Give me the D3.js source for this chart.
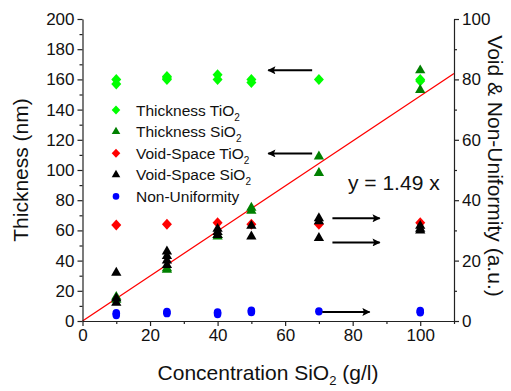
<!DOCTYPE html>
<html><head><meta charset="utf-8">
<script src="https://cdn.jsdelivr.net/npm/d3@7"></script>
<style>body{margin:0;background:#fff}svg{font-family:"Liberation Sans",Arial,sans-serif}</style>
</head><body>
<svg id="c" width="511" height="391"></svg>
<script>
// x positions (g/l)
const thickTiO2X = [10,10,25,25,25,40,40,50,50,70,100,100];
const thickTiO2Y = [160,157,160,161,162,163,160,160,158,160,160,159];
const thickSiO2X = [10,10,25,25,40,40,50,50,70,70,100,100];
const thickSiO2Y = [16,14,35,34,56,57,75,73,109,98,166,153];
const voidTiO2X = [10,25,40,50,70,100];
const voidTiO2Y = [31.8,32,32.5,32,32,32.5];
const voidSiO2X = [10,10,10,25,25,25,25,40,40,40,50,50,70,70,70,100,100,100];
const voidSiO2Y = [16,7.5,6,23,21.5,20,18.5,30.5,29.5,28.5,31.5,28,34,33,27.5,31.5,30.5,30];
const nonUnifX = [10,10,25,25,40,40,50,50,70,100,100];
const nonUnifY = [2,2.6,2.6,3,2.3,2.8,3,3.4,3.2,2.9,3.3];
const slope = 1.49;
const xTicks = [0,20,40,60,80,100];
const leftTicks = [0,20,40,60,80,100,120,140,160,180,200];
const rightTicks = [0,20,40,60,80,100];
const legendLabels = [["Thickness TiO","2"],["Thickness SiO","2"],["Void-Space TiO","2"],["Void-Space SiO","2"],["Non-Uniformity",""]];
// arrows: [x-from, x-to, y] in data units
const arrowsLeft = [[68,55,166],[68,55,111]];
const arrowsRight = [[74,88,34],[74,88,26],[71,85,3]];

const svg = d3.select("#c");
const L=82.5, R=454, T=19, B=321;
const x = d3.scaleLinear().domain([0,110]).range([L,R]);
const yL = d3.scaleLinear().domain([0,200]).range([B,T]);
const yR = d3.scaleLinear().domain([0,100]).range([B,T]);
const axCol="#222";

// fit line
svg.append("line").attr("x1",x(0)).attr("y1",yL(0)).attr("x2",x(110)).attr("y2",yL(slope*110))
  .attr("stroke","#ff0000").attr("stroke-width",1.3);

function styleAxis(g){g.select(".domain").attr("stroke",axCol).attr("stroke-width",1.2);
  g.selectAll(".tick line").attr("stroke",axCol).attr("stroke-width",1.2);
  g.selectAll("text").attr("font-size",17).attr("fill","#111").attr("font-family","Liberation Sans, Arial, sans-serif");}
const gx = svg.append("g").attr("transform",`translate(0,${B})`)
  .call(d3.axisBottom(x).tickValues(xTicks).tickSize(5).tickSizeOuter(0).tickPadding(3));
styleAxis(gx);
svg.append("g").attr("transform",`translate(0,${B})`)
  .call(d3.axisBottom(x).tickValues(d3.range(10,111,20)).tickSize(3).tickFormat("").tickSizeOuter(0))
  .call(g=>{g.select(".domain").remove();g.selectAll("line").attr("stroke",axCol).attr("stroke-width",1.2);});
const gl = svg.append("g").attr("transform",`translate(${L},0)`)
  .call(d3.axisLeft(yL).tickValues(leftTicks).tickSize(5).tickSizeOuter(0).tickPadding(3));
styleAxis(gl);
svg.append("g").attr("transform",`translate(${L},0)`)
  .call(d3.axisLeft(yL).tickValues(d3.range(10,200,20)).tickSize(3).tickFormat("").tickSizeOuter(0))
  .call(g=>{g.select(".domain").remove();g.selectAll("line").attr("stroke",axCol).attr("stroke-width",1.2);});
const gr = svg.append("g").attr("transform",`translate(${R},0)`)
  .call(d3.axisRight(yR).tickValues(rightTicks).tickSize(5).tickSizeOuter(0).tickPadding(3));
styleAxis(gr);
svg.append("g").attr("transform",`translate(${R},0)`)
  .call(d3.axisRight(yR).tickValues(d3.range(10,100,20)).tickSize(3).tickFormat("").tickSizeOuter(0))
  .call(g=>{g.select(".domain").remove();g.selectAll("line").attr("stroke",axCol).attr("stroke-width",1.2);});

// markers
const diamondPath = (w,h)=>`M0,${-h}L${w},0L0,${h}L${-w},0Z`;
const diamond = diamondPath(5,5.5);
const tri = d3.symbol().type(d3.symbolTriangle).size(46)();
function pts(xs,ys,ysc,path,color,isCircle){
  const data = xs.map((v,i)=>[v,ys[i]]);
  const g = svg.append("g");
  if(isCircle){
    g.selectAll("ellipse").data(data).join("ellipse").attr("cx",d=>x(d[0])).attr("cy",d=>ysc(d[1]))
      .attr("rx",3.8).attr("ry",4.2).attr("fill",color);
  } else {
    g.selectAll("path").data(data).join("path").attr("d",path)
      .attr("transform",d=>`translate(${x(d[0])},${ysc(d[1])})`).attr("fill",color);
  }
}
pts(thickTiO2X,thickTiO2Y,yL,diamond,"#00ff00");
pts(thickSiO2X,thickSiO2Y,yL,tri,"#008000");
pts(voidTiO2X,voidTiO2Y,yR,diamond,"#ff0000");
pts(voidSiO2X,voidSiO2Y,yR,tri,"#000000");
pts(nonUnifX,nonUnifY,yR,null,"#0000ff",true);

// arrows
svg.append("defs").append("marker").attr("id","ah").attr("viewBox","0 0 10 10").attr("refX",9).attr("refY",5)
  .attr("markerWidth",6.5).attr("markerHeight",4).attr("markerUnits","strokeWidth").attr("orient","auto")
  .append("path").attr("d","M0,0 L10,5 L0,10 L2,5 Z").attr("fill","#000");
arrowsLeft.forEach(a=>svg.append("line").attr("x1",x(a[0])).attr("x2",x(a[1])).attr("y1",yL(a[2])).attr("y2",yL(a[2]))
  .attr("stroke","#000").attr("stroke-width",2).attr("marker-end","url(#ah)"));
arrowsRight.forEach(a=>svg.append("line").attr("x1",x(a[0])).attr("x2",x(a[1])).attr("y1",yR(a[2])).attr("y2",yR(a[2]))
  .attr("stroke","#000").attr("stroke-width",2).attr("marker-end","url(#ah)"));

// legend
const legSyms = [["d","#00ff00"],["t","#008000"],["d","#ff0000"],["t","#000"],["c","#0000ff"]];
legendLabels.forEach((lab,i)=>{
  const cy = 110 + i*21.6, cx = 116;
  const s = legSyms[i];
  if(s[0]==="c") svg.append("circle").attr("cx",cx).attr("cy",cy).attr("r",3.3).attr("fill",s[1]);
  else svg.append("path").attr("d",s[0]==="d"?diamondPath(4.3,4.5):d3.symbol().type(d3.symbolTriangle).size(32)())
    .attr("transform",`translate(${cx},${cy})`).attr("fill",s[1]);
  const t = svg.append("text").attr("x",136).attr("y",cy+5.5).attr("font-size",15.5).attr("fill","#111").text(lab[0]);
  if(lab[1]) t.append("tspan").attr("font-size",10).attr("dy",5).text(lab[1]);
});

// equation
svg.append("text").attr("x",348).attr("y",190).attr("font-size",21).attr("fill","#111").text("y = 1.49 x");

// axis titles
svg.append("text").attr("transform",`translate(28,${(T+B)/2}) rotate(-90)`).attr("text-anchor","middle")
  .attr("font-size",21).attr("fill","#111").text("Thickness (nm)");
svg.append("text").attr("transform",`translate(488,${(T+B)/2-4}) rotate(90)`).attr("text-anchor","middle")
  .attr("font-size",21).attr("fill","#111").text("Void & Non-Uniformity (a.u.)");
const xt = svg.append("text").attr("x",268).attr("y",380).attr("text-anchor","middle").attr("font-size",21).attr("fill","#111");
xt.append("tspan").text("Concentration SiO");
xt.append("tspan").attr("font-size",13).attr("dy",5).text("2");
xt.append("tspan").attr("dy",-5).text(" (g/l)");
</script>
</body></html>
